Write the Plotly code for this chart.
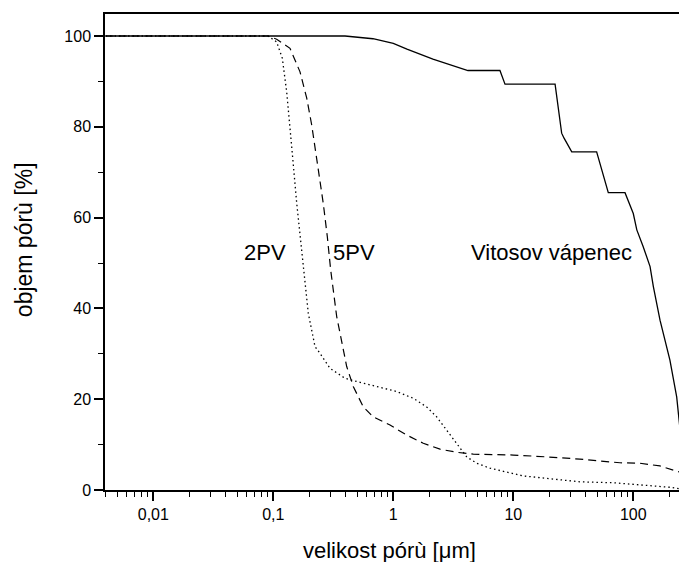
import plotly.graph_objects as go

# Pore size [um] and cumulative pore volume [%]
vit_size = [0.004, 0.396, 0.677, 1.0, 1.30, 2.14, 4.19, 7.74, 8.53, 22.3, 25.3, 26.5, 30.7,
            49.5, 61.9, 85.3, 100, 107, 121, 138, 147, 167, 202, 230, 245]
vit_vol = [100, 100, 99.4, 98.4, 97.1, 94.9, 92.4, 92.4, 89.4, 89.4, 78.6, 77.5, 74.5,
           74.5, 65.5, 65.5, 60.9, 57.3, 53.6, 49.2, 44.8, 37.4, 28.6, 20.5, 13.5]

pv2_size = [0.004, 0.0903, 0.1067, 0.1189, 0.1293, 0.1378, 0.1452, 0.1567, 0.167, 0.1778,
            0.1958, 0.2226, 0.245, 0.297, 0.396, 0.495, 0.727, 1.067, 1.468, 1.897, 2.30,
            2.79, 3.38, 4.09, 4.95, 6.40, 12.1, 19.0, 35.9, 68.1, 129, 202, 240]
pv2_vol = [100, 100, 98.7, 95.1, 87.7, 80.4, 73.1, 63.2, 55.8, 48.5,
           38.9, 31.6, 30.1, 26.8, 24.6, 23.9, 22.8, 21.7, 20.2, 18.3, 16.1,
           13.2, 10.3, 7.3, 5.9, 4.8, 3.1, 2.6, 1.8, 1.6, 1.1, 0.6, 0.3]

pv5_size = [0.004, 0.0903, 0.1067, 0.1378, 0.167, 0.190, 0.209, 0.2226, 0.240, 0.261, 0.282,
            0.3007, 0.3376, 0.3595, 0.409, 0.464, 0.562, 0.681, 0.939, 1.293, 1.778, 2.45,
            3.38, 4.64, 10, 19.0, 35.9, 77.4, 113.6, 166.8, 240]
pv5_vol = [100, 100, 99.3, 97.3, 92.1, 86.3, 80.4, 75.3, 70.1, 63.1, 55.8,
           48.5, 38.2, 34.5, 27.2, 22.8, 18.3, 16.1, 14.3, 12.1, 10.3, 9.0,
           8.3, 7.9, 7.7, 7.3, 6.8, 6.0, 5.9, 5.3, 4.0]

x_tickvals = [0.01, 0.1, 1, 10, 100]
x_ticktext = ["0,01", "0,1", "1", "10", "100"]
x_minor = [m * 10 ** e for e in range(-3, 3) for m in range(2, 10)]
y_tickvals = [0, 20, 40, 60, 80, 100]
y_minor = [10, 30, 50, 70, 90]

FONT = "Liberation Sans, Arial, sans-serif"

fig = go.Figure()
fig.add_trace(go.Scatter(x=vit_size, y=vit_vol, mode="lines",
                         line=dict(color="black", width=1.3), name="Vitosov vápenec"))
fig.add_trace(go.Scatter(x=pv5_size, y=pv5_vol, mode="lines",
                         line=dict(color="black", width=1.2, dash="8px,5px"), name="5PV"))
fig.add_trace(go.Scatter(x=pv2_size, y=pv2_vol, mode="lines",
                         line=dict(color="black", width=1.3, dash="1.5px,3px"), name="2PV"))

fig.update_layout(
    width=679, height=562,
    margin=dict(l=105, r=0, t=14, b=72, autoexpand=False),
    paper_bgcolor="white", plot_bgcolor="white",
    showlegend=False,
    font=dict(family=FONT, color="black", size=16),
    xaxis=dict(type="log", range=[-2.4025, 2.381],
               showline=True, linecolor="black", linewidth=1.5, mirror=True,
               ticks="outside", ticklen=9, tickwidth=1.5, tickcolor="black",
               tickmode="array", tickvals=x_tickvals, ticktext=x_ticktext,
               tickfont=dict(size=16, family=FONT),
               minor=dict(ticks="outside", ticklen=5, tickwidth=1.3, tickcolor="black",
                          tickmode="array", tickvals=x_minor, showgrid=False),
               showgrid=False, zeroline=False, automargin=False),
    yaxis=dict(range=[0, 104.85],
               showline=True, linecolor="black", linewidth=1.5,
               ticks="outside", ticklen=9, tickwidth=1.5, tickcolor="black",
               tickmode="array", tickvals=y_tickvals, ticksuffix="\u00a0",
               tickfont=dict(size=16, family=FONT),
               minor=dict(ticks="outside", ticklen=5, tickwidth=1.3, tickcolor="black",
                          tickmode="array", tickvals=y_minor, showgrid=False),
               showgrid=False, zeroline=False, automargin=False),
)

ann_font = dict(family=FONT, size=22, color="black")
fig.add_annotation(x=-1.069, y=52.3, xref="x", yref="y", text="2PV", showarrow=False,
                   font=ann_font, xanchor="center", yanchor="middle")
fig.add_annotation(x=-0.328, y=52.3, xref="x", yref="y", text="5PV", showarrow=False,
                   font=ann_font, xanchor="center", yanchor="middle")
fig.add_annotation(x=1.3225, y=52.3, xref="x", yref="y", text="Vitosov vápenec", showarrow=False,
                   font=ann_font, xanchor="center", yanchor="middle")
# axis titles
fig.add_annotation(x=0.4965, y=-0.128, xref="paper", yref="paper", text="velikost pórù [μm]",
                   showarrow=False, font=ann_font, xanchor="center", yanchor="middle")
fig.add_annotation(x=-0.141, y=0.525, xref="paper", yref="paper", text="objem pórù [%]",
                   showarrow=False, font=dict(family=FONT, size=23, color="black"),
                   textangle=-90, xanchor="center", yanchor="middle")

fig.write_html("out.html",
               config={"displayModeBar": False},
               post_script="document.body.style.margin='0';document.body.style.overflow='hidden';")
